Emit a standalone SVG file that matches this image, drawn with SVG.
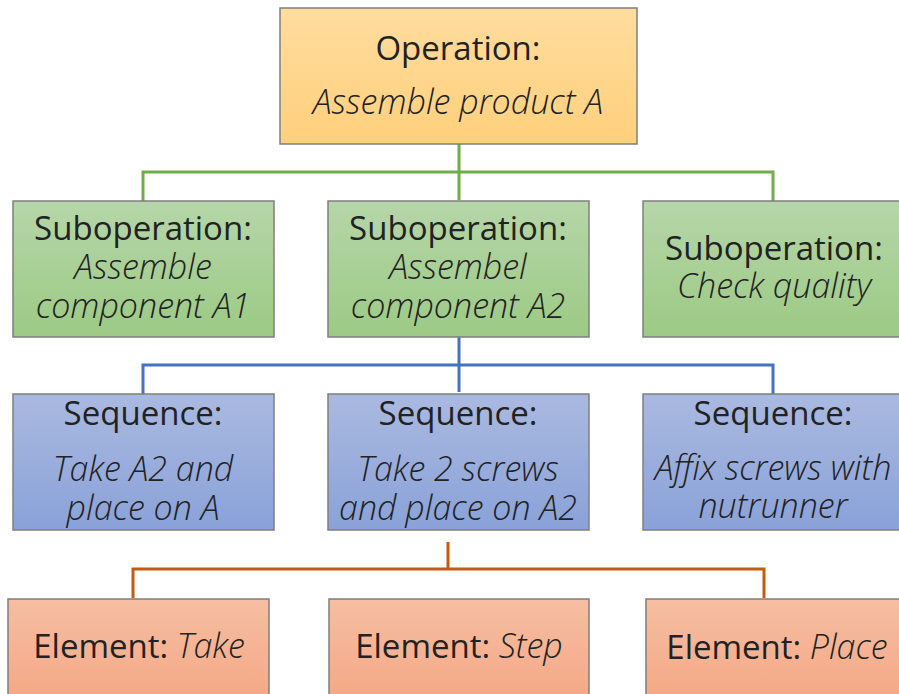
<svg xmlns="http://www.w3.org/2000/svg" width="899" height="694" viewBox="0 0 899 694">
<defs>
<linearGradient id="gO" x1="0" y1="0" x2="0" y2="1"><stop offset="0" stop-color="#FFDC9E"/><stop offset="1" stop-color="#FFD07C"/></linearGradient>
<linearGradient id="gG" x1="0" y1="0" x2="0" y2="1"><stop offset="0" stop-color="#B6D6A9"/><stop offset="1" stop-color="#9CCA84"/></linearGradient>
<linearGradient id="gB" x1="0" y1="0" x2="0" y2="1"><stop offset="0" stop-color="#AAB9E0"/><stop offset="1" stop-color="#8AA2D9"/></linearGradient>
<linearGradient id="gR" x1="0" y1="0" x2="0" y2="1"><stop offset="0" stop-color="#F6BEA2"/><stop offset="1" stop-color="#F4A683"/></linearGradient>
</defs>
<style>
.box{stroke:#7F7F7F;stroke-width:1.5}
.op{fill:url(#gO)} .so{fill:url(#gG)} .sq{fill:url(#gB)} .el{fill:url(#gR)}
text{font-family:"Open Sans","Noto Sans",sans-serif;fill:#222;text-anchor:middle}
.h{font-size:33px}
.i{font-size:34px;font-style:italic;font-weight:300}
.c{fill:none;stroke-width:3}
.cg{stroke:#70AD47} .cb{stroke:#4472C4} .cr{stroke:#C55A11}
</style>
<g id="connectors">
<path class="c cg" d="M459 144V200M143 201V172H773V201"/>
<path class="c cb" d="M459 337V392M143 394V365H773V394"/>
<path class="c cr" d="M448 542V569M133 598V569H764V598"/>
</g>
<g id="operation">
<rect class="box op" x="280" y="8" width="357" height="136"/>
<text class="h" x="458" y="60">Operation:</text>
<text class="i" x="458" y="114">Assemble product A</text>
</g>
<g id="subop1">
<rect class="box so" x="13" y="201" width="261" height="136"/>
<text class="h" x="143" y="240">Suboperation:</text>
<text class="i" x="143" y="279">Assemble</text>
<text class="i" x="143" y="318">component A1</text>
</g>
<g id="subop2">
<rect class="box so" x="328" y="201" width="261" height="136"/>
<text class="h" x="458" y="240">Suboperation:</text>
<text class="i" x="458" y="279">Assembel</text>
<text class="i" x="458" y="318">component A2</text>
</g>
<g id="subop3">
<rect class="box so" x="643" y="201" width="262" height="136"/>
<text class="h" x="774" y="260">Suboperation:</text>
<text class="i" x="774" y="298">Check quality</text>
</g>
<g id="seq1">
<rect class="box sq" x="13" y="394" width="261" height="136"/>
<text class="h" x="143" y="425">Sequence:</text>
<text class="i" x="143" y="481">Take A2 and</text>
<text class="i" x="143" y="520">place on A</text>
</g>
<g id="seq2">
<rect class="box sq" x="328" y="394" width="261" height="136"/>
<text class="h" x="458" y="425">Sequence:</text>
<text class="i" x="458" y="481">Take 2 screws</text>
<text class="i" x="458" y="520">and place on A2</text>
</g>
<g id="seq3">
<rect class="box sq" x="643" y="394" width="262" height="136"/>
<text class="h" x="773" y="425">Sequence:</text>
<text class="i" x="773" y="480">Affix screws with</text>
<text class="i" x="773" y="518">nutrunner</text>
</g>
<g id="elem1">
<rect class="box el" x="8" y="599" width="261" height="110"/>
<text x="139" y="658"><tspan class="h">Element: </tspan><tspan class="i">Take</tspan></text>
</g>
<g id="elem2">
<rect class="box el" x="329" y="599" width="260" height="110"/>
<text x="459" y="658"><tspan class="h">Element: </tspan><tspan class="i">Step</tspan></text>
</g>
<g id="elem3">
<rect class="box el" x="646" y="599" width="262" height="110"/>
<text x="777" y="659"><tspan class="h">Element: </tspan><tspan class="i">Place</tspan></text>
</g>
</svg>
